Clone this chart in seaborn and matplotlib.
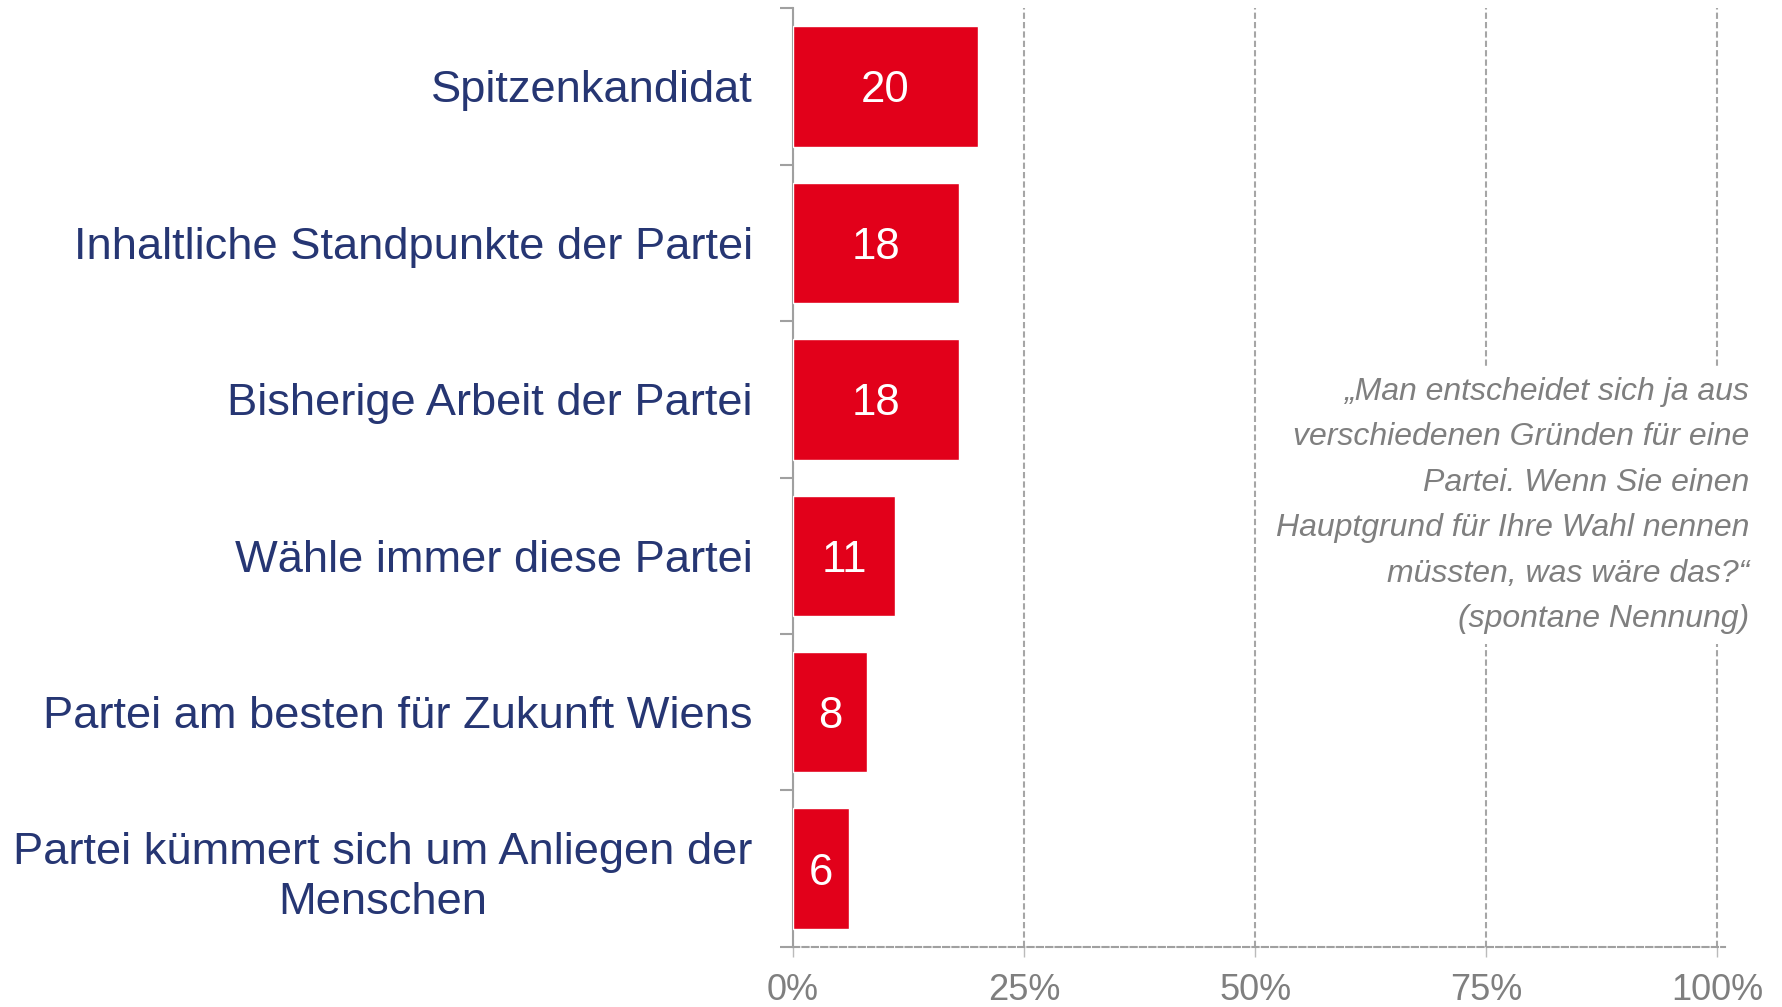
import matplotlib
matplotlib.use('Agg')
import matplotlib.pyplot as plt
import seaborn as sns
import pandas as pd
from matplotlib import font_manager

categories = [
    "Spitzenkandidat",
    "Inhaltliche Standpunkte der Partei",
    "Bisherige Arbeit der Partei",
    "Wähle immer diese Partei",
    "Partei am besten für Zukunft Wiens",
    "Partei kümmert sich um Anliegen der\nMenschen",
]
values = [20, 18, 18, 11, 8, 6]
xticks = [0, 25, 50, 75, 100]
xtick_labels = ["0%", "25%", "50%", "75%", "100%"]
note = ("„Man entscheidet sich ja aus\nverschiedenen Gründen für eine\n"
        "Partei. Wenn Sie einen\nHauptgrund für Ihre Wahl nennen\n"
        "müssten, was wäre das?“\n(spontane Nennung)")

RED = '#E2001A'
NAVY = '#263673'
GRAY_TXT = '#7F7F7F'
GRAY_LINE = '#A0A0A0'

sns.set_theme(style='white')
plt.rcParams['font.family'] = ['Liberation Sans', 'DejaVu Sans']

names = {f.name for f in font_manager.fontManager.ttflist}
if 'Liberation Sans Narrow' in names:
    tick_family, tick_size = ['Liberation Sans Narrow', 'DejaVu Sans'], 29
else:
    tick_family, tick_size = ['Liberation Sans', 'DejaVu Sans'], 26

fig = plt.figure(figsize=(17.83, 10.07), dpi=100)
ax = fig.add_axes([0.4448, 0.0596, 0.9674 - 0.4448, 0.992 - 0.0596])

df = pd.DataFrame({'cat': categories, 'val': values})
sns.barplot(data=df, x='val', y='cat', orient='h', color=RED, saturation=1,
            width=0.77, ax=ax, zorder=3)

ax.set_xlim(0, 100.8)
ax.set_ylim(5.5, -0.5)
ax.set_xlabel('')
ax.set_ylabel('')

ax.xaxis.grid(True, color='#A6A6A6', lw=1.5, ls=(0, (3, 1.5)), zorder=1)
ax.yaxis.grid(False)
ax.set_axisbelow(True)

for s in ['top', 'right']:
    ax.spines[s].set_visible(False)
ax.spines['left'].set_color(GRAY_LINE)
ax.spines['left'].set_linewidth(1.5)
ax.spines['bottom'].set_color(GRAY_LINE)
ax.spines['bottom'].set_linewidth(1.5)
ax.spines['bottom'].set_linestyle((0, (3, 1.5)))

# y ticks
ax.set_yticks(range(len(categories)))
ax.set_yticklabels(categories)
ax.set_yticks([i - 0.5 for i in range(len(categories) + 1)], minor=True)
ax.tick_params(axis='y', which='major', left=True, length=0, pad=29,
               labelsize=32.6, labelcolor=NAVY)
ax.tick_params(axis='y', which='minor', left=True, length=9.5, width=1.5,
               color=GRAY_LINE, direction='out')
for lbl in ax.get_yticklabels():
    if '\n' in lbl.get_text():
        lbl.set_multialignment('center')
        lbl.set_linespacing(1.28)

# x ticks
ax.set_xticks(xticks)
ax.set_xticklabels(xtick_labels)
ax.tick_params(axis='x', which='major', bottom=True, length=7, width=1,
               color='#BBBBBB', pad=12, labelsize=tick_size, labelcolor=GRAY_TXT)
for lbl in ax.get_xticklabels():
    lbl.set_family(tick_family)

bar_texts = ax.bar_label(ax.containers[0], labels=[str(v) for v in values],
                         label_type='center', color='white', fontsize=31.5)
for t in bar_texts:
    t.set_verticalalignment('center_baseline')

fig.text(0.981, 0.498, note, ha='right', va='center', ma='right',
         style='italic', fontsize=23, color=GRAY_TXT, linespacing=1.675,
         bbox=dict(boxstyle='square,pad=0.3', fc='white', ec='none'))

fig.savefig('out.png', dpi=100)
